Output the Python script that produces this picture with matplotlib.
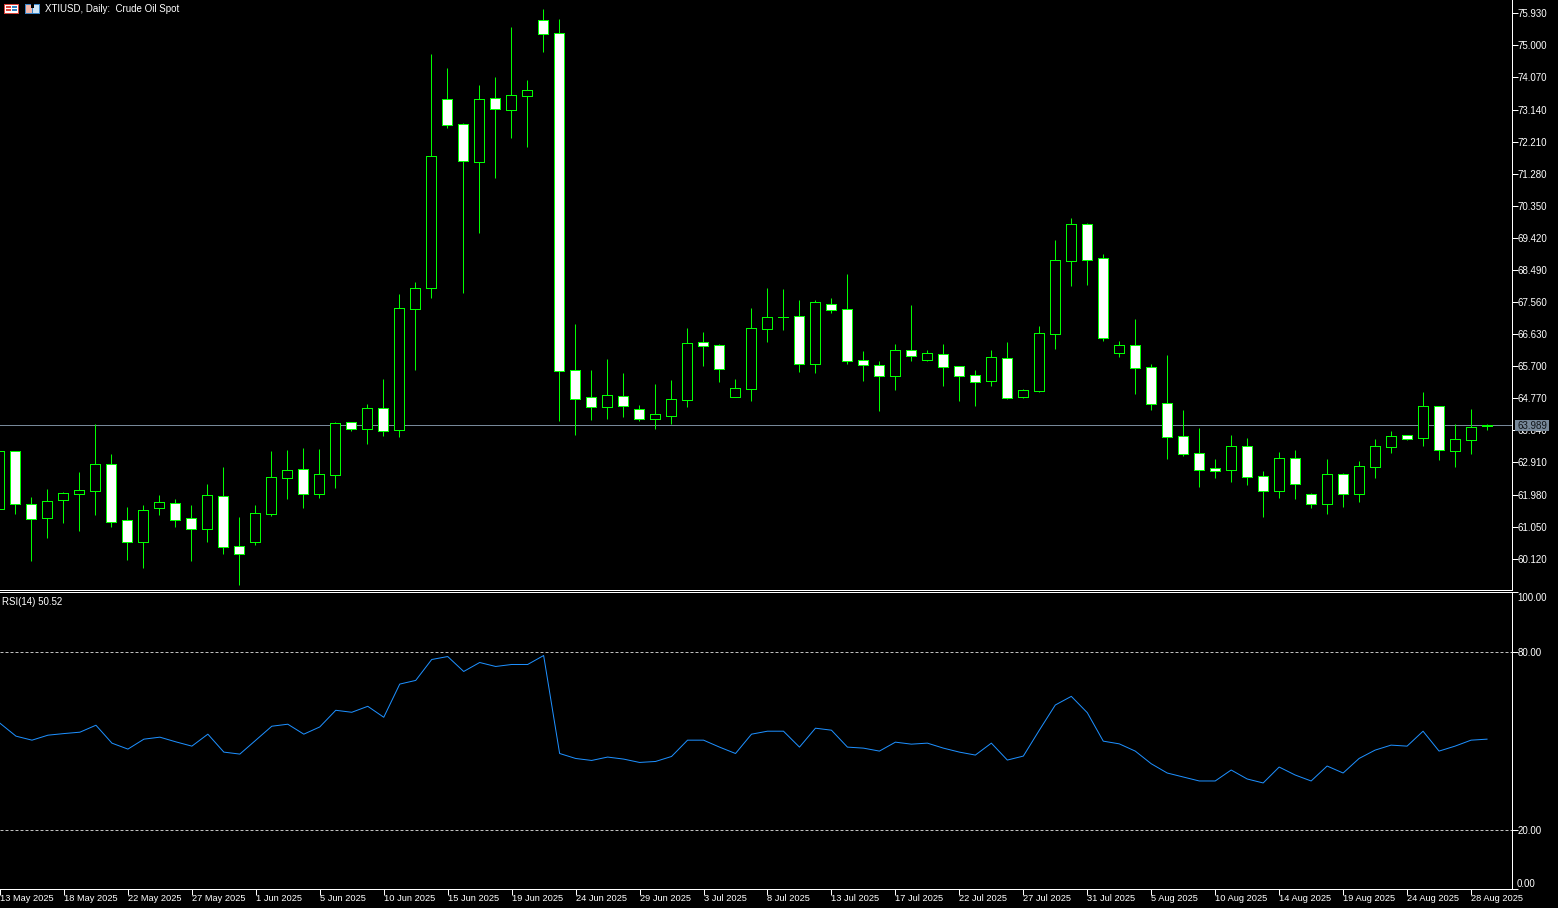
import matplotlib
matplotlib.use('Agg')
import matplotlib.pyplot as plt
from matplotlib.patches import Rectangle

W, H = 1558, 908

opens = [61.57, 63.23, 61.71, 61.31, 61.83, 62.00, 62.09, 62.86, 61.23, 60.61,
         61.60, 61.73, 61.29, 60.99, 61.93, 60.48, 60.61, 61.43, 62.47, 62.71,
         62.00, 62.56, 64.08, 63.89, 64.48, 63.86, 67.37, 67.98, 73.44, 72.71,
         71.63, 73.47, 73.14, 73.54, 75.73, 75.35, 65.58, 64.80, 64.53, 64.83,
         64.45, 64.18, 64.27, 64.73, 66.39, 66.31, 64.82, 65.05, 66.79, 67.13,
         67.15, 65.77, 67.50, 67.35, 65.87, 65.73, 65.42, 66.16, 65.89, 66.05,
         65.70, 65.44, 65.28, 65.93, 64.82, 64.98, 66.64, 68.76, 69.81, 68.83,
         66.09, 66.31, 65.67, 64.62, 63.67, 63.18, 62.74, 62.70, 63.38, 62.51,
         62.09, 63.03, 61.99, 61.71, 62.57, 62.00, 62.79, 63.37, 63.70, 63.63,
         64.54, 63.25, 63.57, 63.98]
closes = [63.23, 61.71, 61.28, 61.78, 62.02, 62.10, 62.86, 61.19, 60.61, 61.52,
          61.76, 61.25, 60.99, 61.96, 60.47, 60.27, 61.44, 62.48, 62.69, 62.00,
          62.57, 64.05, 63.89, 64.48, 63.83, 67.38, 67.96, 71.79, 72.70, 71.66,
          73.44, 73.17, 73.55, 73.70, 75.34, 65.57, 64.76, 64.53, 64.86, 64.56,
          64.18, 64.31, 64.74, 66.36, 66.30, 65.63, 65.06, 66.80, 67.12, 67.13,
          65.77, 67.55, 67.34, 65.86, 65.73, 65.42, 66.16, 66.01, 66.08, 65.69,
          65.42, 65.25, 65.96, 64.79, 65.00, 66.65, 68.77, 69.81, 68.79, 66.53,
          66.31, 65.66, 64.61, 63.66, 63.17, 62.70, 62.67, 63.38, 62.50, 62.09,
          63.03, 62.30, 61.71, 62.57, 62.00, 62.80, 63.38, 63.67, 63.60, 64.54,
          63.26, 63.58, 63.93, 63.989]
highs = [63.24, 63.24, 61.91, 62.14, 62.05, 62.63, 64.03, 63.16, 61.62, 61.68,
         61.97, 61.85, 61.68, 62.29, 62.78, 61.33, 61.68, 63.24, 63.27, 63.33,
         63.30, 64.09, 64.09, 64.61, 65.33, 67.79, 68.14, 74.75, 74.35, 72.75,
         73.85, 74.08, 75.53, 73.99, 76.05, 75.76, 66.92, 65.59, 65.91, 65.50,
         64.58, 65.18, 65.30, 66.81, 66.69, 66.34, 65.33, 67.39, 67.97, 67.94,
         67.62, 67.62, 67.68, 68.37, 66.14, 65.85, 66.34, 67.47, 66.17, 66.34,
         65.71, 65.59, 66.17, 66.40, 65.04, 66.87, 69.36, 69.99, 69.85, 68.95,
         66.43, 67.07, 65.76, 66.02, 64.43, 63.91, 63.01, 63.71, 63.62, 62.66,
         63.21, 63.27, 62.03, 63.01, 62.60, 62.95, 63.59, 63.82, 63.71, 64.95,
         64.54, 64.03, 64.46, 64.03]
lows = [61.53, 61.42, 60.05, 60.72, 61.15, 60.92, 61.39, 61.04, 60.08, 59.85,
        61.39, 61.04, 60.05, 60.60, 60.26, 59.36, 60.52, 61.36, 61.85, 61.59,
        61.88, 62.17, 63.82, 63.45, 63.68, 63.65, 65.59, 67.68, 72.61, 67.82,
        69.56, 71.16, 72.31, 72.05, 74.81, 64.11, 63.71, 64.14, 64.17, 64.23,
        64.11, 63.88, 64.03, 64.52, 65.71, 65.24, 64.81, 64.69, 66.40, 66.75,
        65.53, 65.50, 67.24, 65.77, 65.27, 64.40, 65.01, 65.85, 65.85, 65.13,
        64.69, 64.55, 65.13, 64.75, 64.78, 64.95, 66.20, 68.03, 68.05, 66.43,
        65.97, 64.90, 64.43, 63.01, 63.10, 62.20, 62.46, 62.34, 62.26, 61.33,
        61.88, 61.85, 61.59, 61.42, 61.62, 61.77, 62.46, 63.19, 63.56, 63.39,
        62.98, 62.78, 63.16, 63.85]
rsi = [55.88, 51.53, 50.18, 51.86, 52.40, 52.87, 55.21, 49.18, 47.17, 50.52,
       51.19, 49.61, 48.17, 52.20, 46.16, 45.49, 50.18, 54.88, 55.55, 52.20,
       54.64, 60.24, 59.57, 61.58, 57.89, 69.06, 70.30, 77.34, 78.34, 73.31,
       76.33, 74.99, 75.66, 75.66, 78.68, 45.69, 44.02, 43.35, 44.49, 43.81,
       42.68, 43.01, 44.69, 50.18, 50.18, 47.84, 45.69, 52.20, 53.20, 53.20,
       47.84, 54.21, 53.54, 47.84, 47.50, 46.50, 49.51, 48.84, 49.18, 47.50,
       46.16, 45.16, 49.18, 43.48, 44.82, 53.54, 62.02, 64.93, 59.44, 49.85,
       48.94, 46.50, 42.24, 39.12, 37.78, 36.44, 36.44, 40.13, 37.11, 35.77,
       41.13, 38.45, 36.44, 41.47, 39.12, 44.02, 46.83, 48.51, 48.17, 53.20,
       46.50, 48.17, 50.18, 50.52]

date_labels = ['13 May 2025', '18 May 2025', '22 May 2025', '27 May 2025', '1 Jun 2025', '5 Jun 2025',
               '10 Jun 2025', '15 Jun 2025', '19 Jun 2025', '24 Jun 2025', '29 Jun 2025', '3 Jul 2025',
               '8 Jul 2025', '13 Jul 2025', '17 Jul 2025', '22 Jul 2025', '27 Jul 2025', '31 Jul 2025',
               '5 Aug 2025', '10 Aug 2025', '14 Aug 2025', '19 Aug 2025', '24 Aug 2025', '28 Aug 2025']
price_ticks = [75.93, 75.00, 74.07, 73.14, 72.21, 71.28, 70.35, 69.42, 68.49, 67.56,
               66.63, 65.70, 64.77, 63.84, 62.91, 61.98, 61.05, 60.12]
rsi_ticks = [100, 80, 20, 0]
rsi_tick_labels = ['', '80.00', '20.00', '']
last_price = 63.989

GREEN = '#00ff00'
FONT = 'Liberation Sans'
PX = 0.72


def px_box(x0, y0, x1, y1):
    return [x0 / W, 1 - y1 / H, (x1 - x0) / W, (y1 - y0) / H]


def fig_rect(x0, y0, x1, y1, color, z=5):
    fig.add_artist(Rectangle((x0 / W, 1 - y1 / H), (x1 - x0) / W, (y1 - y0) / H,
                             transform=fig.transFigure, facecolor=color, edgecolor='none', zorder=z))


def fig_label(x, y, s, **kw):
    fig.text(x / W, 1 - y / H, s, fontsize=7, family=FONT, va='center', zorder=6, **kw)


fig = plt.figure(figsize=(W / 100, H / 100), dpi=100, facecolor='black')
ax = fig.add_axes(px_box(0, 0, 1512, 590.2), facecolor='black')
ax2 = fig.add_axes(px_box(0, 592.2, 1512, 889.2), facecolor='black')

idx = list(range(len(opens)))

# price panel
ax.axhline(last_price, color='#778899', lw=PX, zorder=1)
for i in idx:
    ax.plot([i, i], [lows[i], highs[i]], color=GREEN, lw=PX, solid_capstyle='butt', zorder=2)
bottoms = [min(o, c) for o, c in zip(opens, closes)]
heights = [abs(o - c) for o, c in zip(opens, closes)]
faces = ['white' if c < o else 'black' for o, c in zip(opens, closes)]
ax.bar(idx, heights, bottom=bottoms, width=0.625, color=faces, edgecolor=GREEN,
       linewidth=PX, antialiased=False, zorder=3)
ax.set_xlim(1 / 16, 1513 / 16)
ax.set_ylim(76.3155 - 590.2 / 34.5, 76.3155)
ax.set_yticks(price_ticks)
ax.set_yticklabels(['%.3f' % p for p in price_ticks])
ax.set_xticks([])

# rsi panel
ax2.plot(idx, rsi, color='#1e90ff', lw=PX, zorder=3)
for lev in (20, 80):
    ax2.axhline(lev, color='#c0c0c0', lw=PX, ls=(0, (3, 2)), zorder=2)
ax2.set_xlim(ax.get_xlim())
ax2.set_ylim(0, 100)
ax2.set_yticks(rsi_ticks)
ax2.set_yticklabels(rsi_tick_labels)
ax2.set_xticks(idx[::4])
ax2.set_xticklabels(date_labels, ha='left')

for a in (ax, ax2):
    a.yaxis.tick_right()
    a.tick_params(axis='y', colors='white', length=4, width=PX, pad=0, labelsize=7)
    a.tick_params(axis='x', colors='white', length=4, width=PX, pad=-0.5, labelsize=6.7)
    for lab in a.get_xticklabels() + a.get_yticklabels():
        lab.set_fontfamily(FONT)
    a.spines['left'].set_visible(False)
    for s in a.spines.values():
        s.set_color('white')
        s.set_linewidth(PX)
ax.spines['top'].set_visible(False)

# 100 and 0 labels sit inside the panel in the terminal, not on their ticks
fig_label(1517, 598, '100.00', color='white')
fig_label(1517, 884, '0.00', color='white')

# current price box over the axis labels
fig_rect(1515, 420, 1549, 431, '#778899')
fig_label(1532, 425.7, '63.989', color='#101418', ha='center')

# header
fig_label(45, 8.5, 'XTIUSD, Daily:  Crude Oil Spot', color='white')
fig_label(2, 602, 'RSI(14) 50.52', color='white')

# two toolbar icons next to the title
fig_rect(4, 4, 19, 14, '#d9433a')
fig_rect(5, 5, 18, 13, 'white', 6)
fig_rect(6, 6, 11, 7.5, '#d9433a', 7)
fig_rect(6, 9, 11, 10.5, '#d9433a', 7)
fig_rect(12, 6, 17, 7.5, '#2f7fc1', 7)
fig_rect(12, 9, 17, 10.5, '#2f7fc1', 7)
fig_rect(25, 4, 40, 14, '#3a86c8')
fig_rect(26, 5, 32, 13, '#f3b7a8', 6)
fig_rect(33, 5, 39, 13, '#cfe6f7', 6)
fig_rect(31, 4, 34, 8, 'black', 7)

fig.savefig('out.png', dpi=100, facecolor='black')
